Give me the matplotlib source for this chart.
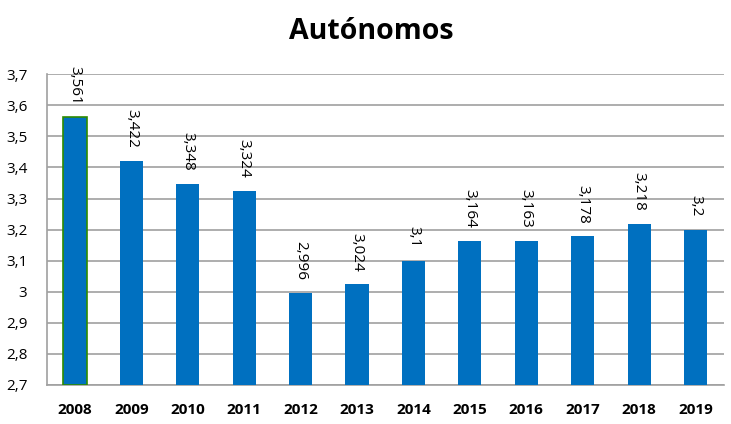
import numpy as np
import matplotlib
matplotlib.use('Agg')
import matplotlib.pyplot as plt

# datos
years = ['2008', '2009', '2010', '2011', '2012', '2013', '2014', '2015', '2016', '2017', '2018', '2019']
values = [3.561, 3.422, 3.348, 3.324, 2.996, 3.024, 3.1, 3.164, 3.163, 3.178, 3.218, 3.2]
labels = ['3,561', '3,422', '3,348', '3,324', '2,996', '3,024', '3,1', '3,164', '3,163', '3,178', '3,218', '3,2']
yticks = [2.7, 2.8, 2.9, 3.0, 3.1, 3.2, 3.3, 3.4, 3.5, 3.6, 3.7]
ytick_labels = ['2,7', '2,8', '2,9', '3', '3,1', '3,2', '3,3', '3,4', '3,5', '3,6', '3,7']

plt.rcParams['font.family'] = ['Open Sans', 'DejaVu Sans']

fig = plt.figure(figsize=(7.31, 4.24), dpi=100)
ax = fig.add_axes([0.064, 0.092, 0.926, 0.733])

x = np.arange(len(years))
bars = ax.bar(x, [v - 2.7 for v in values], bottom=2.7, width=0.41, color='#0070C0', zorder=3)
bars[0].set_edgecolor('#2E8B00')
bars[0].set_linewidth(1.2)

for xi, v, lab in zip(x, values, labels):
    ax.annotate(lab, (xi, v), xytext=(0, 13), textcoords='offset pixels',
                rotation=270, ha='center', va='bottom', fontsize=11, color='black')

ax.set_ylim(2.7, 3.7)
ax.set_xlim(-0.5, len(years) - 0.5)
ax.set_yticks(yticks)
ax.set_yticklabels(ytick_labels, fontsize=11)
ax.set_xticks(x)
ax.set_xticklabels(years, fontsize=11, fontweight='bold')
ax.tick_params(axis='x', length=0, pad=13)
ax.tick_params(axis='y', length=0, pad=14)
ax.yaxis.grid(True, color='#A0A0A0', linewidth=1.2, zorder=0)
for s in ['top', 'right']:
    ax.spines[s].set_visible(False)
ax.spines['left'].set_color('#A0A0A0')
ax.spines['bottom'].set_color('#A0A0A0')
ax.spines['left'].set_linewidth(1.2)
ax.spines['bottom'].set_linewidth(1.2)

fig.text(0.508, 0.925, 'Autónomos', ha='center', va='center', fontsize=20.5, fontweight='bold')

fig.savefig('out.png', dpi=100)
